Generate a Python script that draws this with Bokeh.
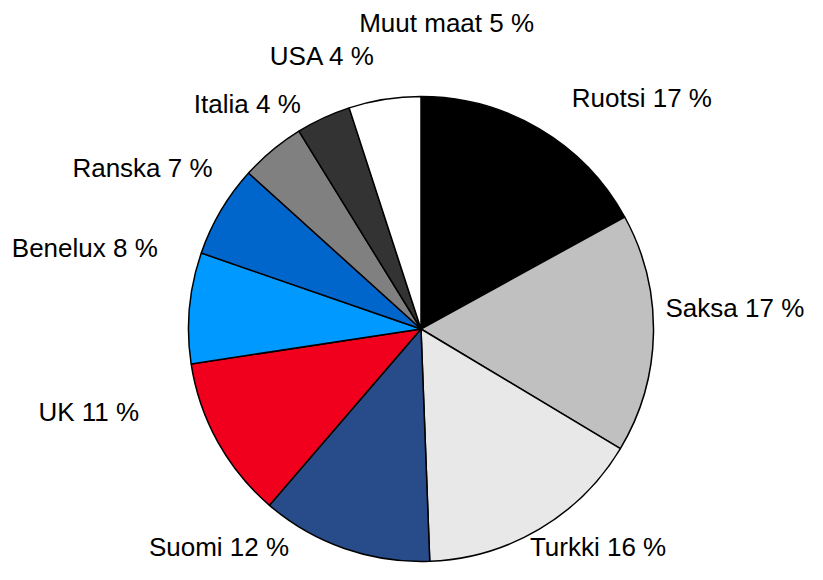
import math
from bokeh.plotting import figure
from bokeh.models import Range1d, ColumnDataSource
from bokeh.core.properties import value
from bokeh.embed import file_html
from bokeh.resources import INLINE

# ---- data ----
countries = ["Ruotsi", "Saksa", "Turkki", "Suomi", "UK", "Benelux",
             "Ranska", "Italia", "USA", "Muut maat"]
shares = [17.0, 16.6, 15.8, 11.9, 11.3, 7.7, 6.4, 4.5, 3.8, 5.0]
label_pct = [17, 17, 16, 12, 11, 8, 7, 4, 4, 5]
colors = ["#000000", "#C0C0C0", "#E8E8E8", "#284B8A", "#F0001C",
          "#0099FF", "#0066CC", "#808080", "#333333", "#FFFFFF"]

# ---- layout (pixel units, relative to pie centre) ----
W, H = 807, 564
CX, CY, R = 420.5, 235.5, 232.5
label_offsets = [(150.8, 231.3), (244.5, 21.0), (108.9, -217.7), (-272.1, -217.7),
                 (-382.5, -83.4), (-409.2, 81.0), (-348.6, 160.8), (-227.2, 224.7),
                 (-151.2, 273.3), (-61.8, 306.3)]

total = sum(shares)
starts, ends = [], []
cum = 0.0
for s in shares:
    starts.append(math.pi / 2 - 2 * math.pi * cum / total)
    cum += s
    ends.append(math.pi / 2 - 2 * math.pi * cum / total)

src = ColumnDataSource(dict(
    x=[CX] * len(shares), y=[CY] * len(shares),
    start=starts, end=ends, color=colors))

p = figure(width=W, height=H, output_backend="svg", toolbar_location=None,
           x_range=Range1d(0, W), y_range=Range1d(0, H), min_border=0)
p.axis.visible = False
p.grid.visible = False
p.outline_line_color = None

p.wedge(x="x", y="y", radius=R, radius_units="screen",
        start_angle="start", end_angle="end", direction="clock",
        fill_color="color", line_color="black", line_width=1.5, source=src)

labels = [f"{c} {v} %" for c, v in zip(countries, label_pct)]
lsrc = ColumnDataSource(dict(
    x=[CX + dx for dx, dy in label_offsets],
    y=[CY + dy for dx, dy in label_offsets],
    text=labels))
p.text(x="x", y="y", text="text", source=lsrc,
       text_font=value("Liberation Sans"), text_font_size="26px",
       text_color="black", text_align="left", text_baseline="alphabetic")

open("out.html", "w").write(file_html(p, INLINE))
